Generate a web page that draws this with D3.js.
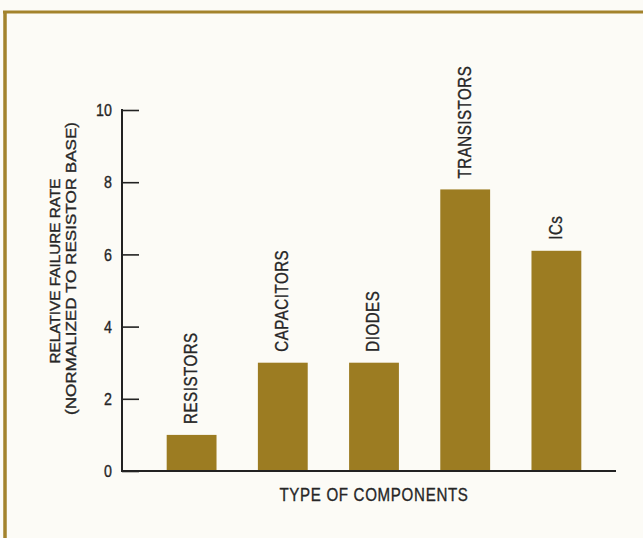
<!DOCTYPE html>
<html>
<head>
<meta charset="utf-8">
<script src="https://cdn.jsdelivr.net/npm/d3@7"></script>
<style>
  html, body { margin: 0; padding: 0; background: #fcfbf6; }
  svg { display: block; }
  text { font-family: "Liberation Sans", Arial, sans-serif; fill: #262626; stroke: #262626; stroke-width: 0.35px; }
</style>
</head>
<body>
<svg id="chart" width="643" height="538"></svg>
<script>
const categories = ["RESISTORS", "CAPACITORS", "DIODES", "TRANSISTORS", "ICs"];
const values = [1.0, 3.0, 3.0, 7.8, 6.1];
const yTicks = [0, 2, 4, 6, 8, 10];
const yTitle = ["RELATIVE FAILURE RATE", "(NORMALIZED TO RESISTOR BASE)"];
const xTitle = "TYPE OF COMPONENTS";

const W = 643, H = 538;
const svg = d3.select("#chart");
const gold = "#9c7c22";
const SX = 0.84; // horizontal condensing of the typeface

// frame
svg.append("rect").attr("x", 0).attr("y", 0).attr("width", W).attr("height", H).attr("fill", "#fcfbf6");
svg.append("line").attr("x1", 3).attr("x2", W).attr("y1", 12).attr("y2", 12)
  .attr("stroke", "#a3832c").attr("stroke-width", 3);
svg.append("line").attr("x1", 5).attr("x2", 5).attr("y1", 11).attr("y2", H)
  .attr("stroke", "#a3832c").attr("stroke-width", 3.5);

const y = d3.scaleLinear().domain([0, 10]).range([471, 110]);
const x = d3.scaleBand().domain(categories).range([122, 626])
  .paddingInner(0.4536).paddingOuter(0.49);

// y axis: ticks pointing right, into the plot
const yAxis = d3.axisRight(y).tickValues(yTicks).tickSize(17).tickFormat("");
const gy = svg.append("g").attr("transform", "translate(122,0)").call(yAxis);
gy.select(".domain").remove();
gy.selectAll(".tick line").attr("stroke", "#222").attr("stroke-width", 1.6);
svg.append("line").attr("x1", 122).attr("x2", 122).attr("y1", y(10) - 1).attr("y2", y(0) + 1)
  .attr("stroke", "#222").attr("stroke-width", 2);

// tick labels
svg.append("g").selectAll("text").data(yTicks).join("text")
  .attr("transform", d => `translate(112,${y(d)}) scale(${SX},1)`)
  .attr("text-anchor", "end").attr("dy", "0.36em")
  .style("font-size", "17px")
  .text(d => d);

// bars
svg.append("g").selectAll("rect").data(values).join("rect")
  .attr("x", (d, i) => x(categories[i]))
  .attr("width", x.bandwidth())
  .attr("y", d => y(d))
  .attr("height", d => y(0) - y(d))
  .attr("fill", gold);

// baseline
svg.append("line").attr("x1", 121).attr("x2", 616).attr("y1", y(0)).attr("y2", y(0))
  .attr("stroke", "#222").attr("stroke-width", 2);

// rotated category labels above bars
svg.append("g").selectAll("text").data(values).join("text")
  .attr("transform", (d, i) => `translate(${x(categories[i]) + x.bandwidth() / 2 - 1},${y(d) - 11}) rotate(-90) scale(${SX},1)`)
  .attr("dy", "0.36em")
  .attr("text-anchor", "start")
  .style("font-size", "18px")
  .style("letter-spacing", "0.6px")
  .text((d, i) => categories[i]);

// x title
svg.append("text")
  .attr("transform", `translate(374,501) scale(${SX},1)`)
  .attr("text-anchor", "middle")
  .style("font-size", "18px")
  .style("letter-spacing", "0.8px")
  .text(xTitle);

// y title (two lines, rotated)
const yTitleLen = [185, 293];
svg.append("g").selectAll("text").data(yTitle).join("text")
  .attr("transform", (d, i) => `translate(${60 + i * 15.5},${271 - i * 2.5}) rotate(-90)`)
  .attr("text-anchor", "middle")
  .attr("textLength", (d, i) => yTitleLen[i])
  .attr("lengthAdjust", "spacingAndGlyphs")
  .style("font-size", "15px")
  .text(d => d);
</script>
</body>
</html>
